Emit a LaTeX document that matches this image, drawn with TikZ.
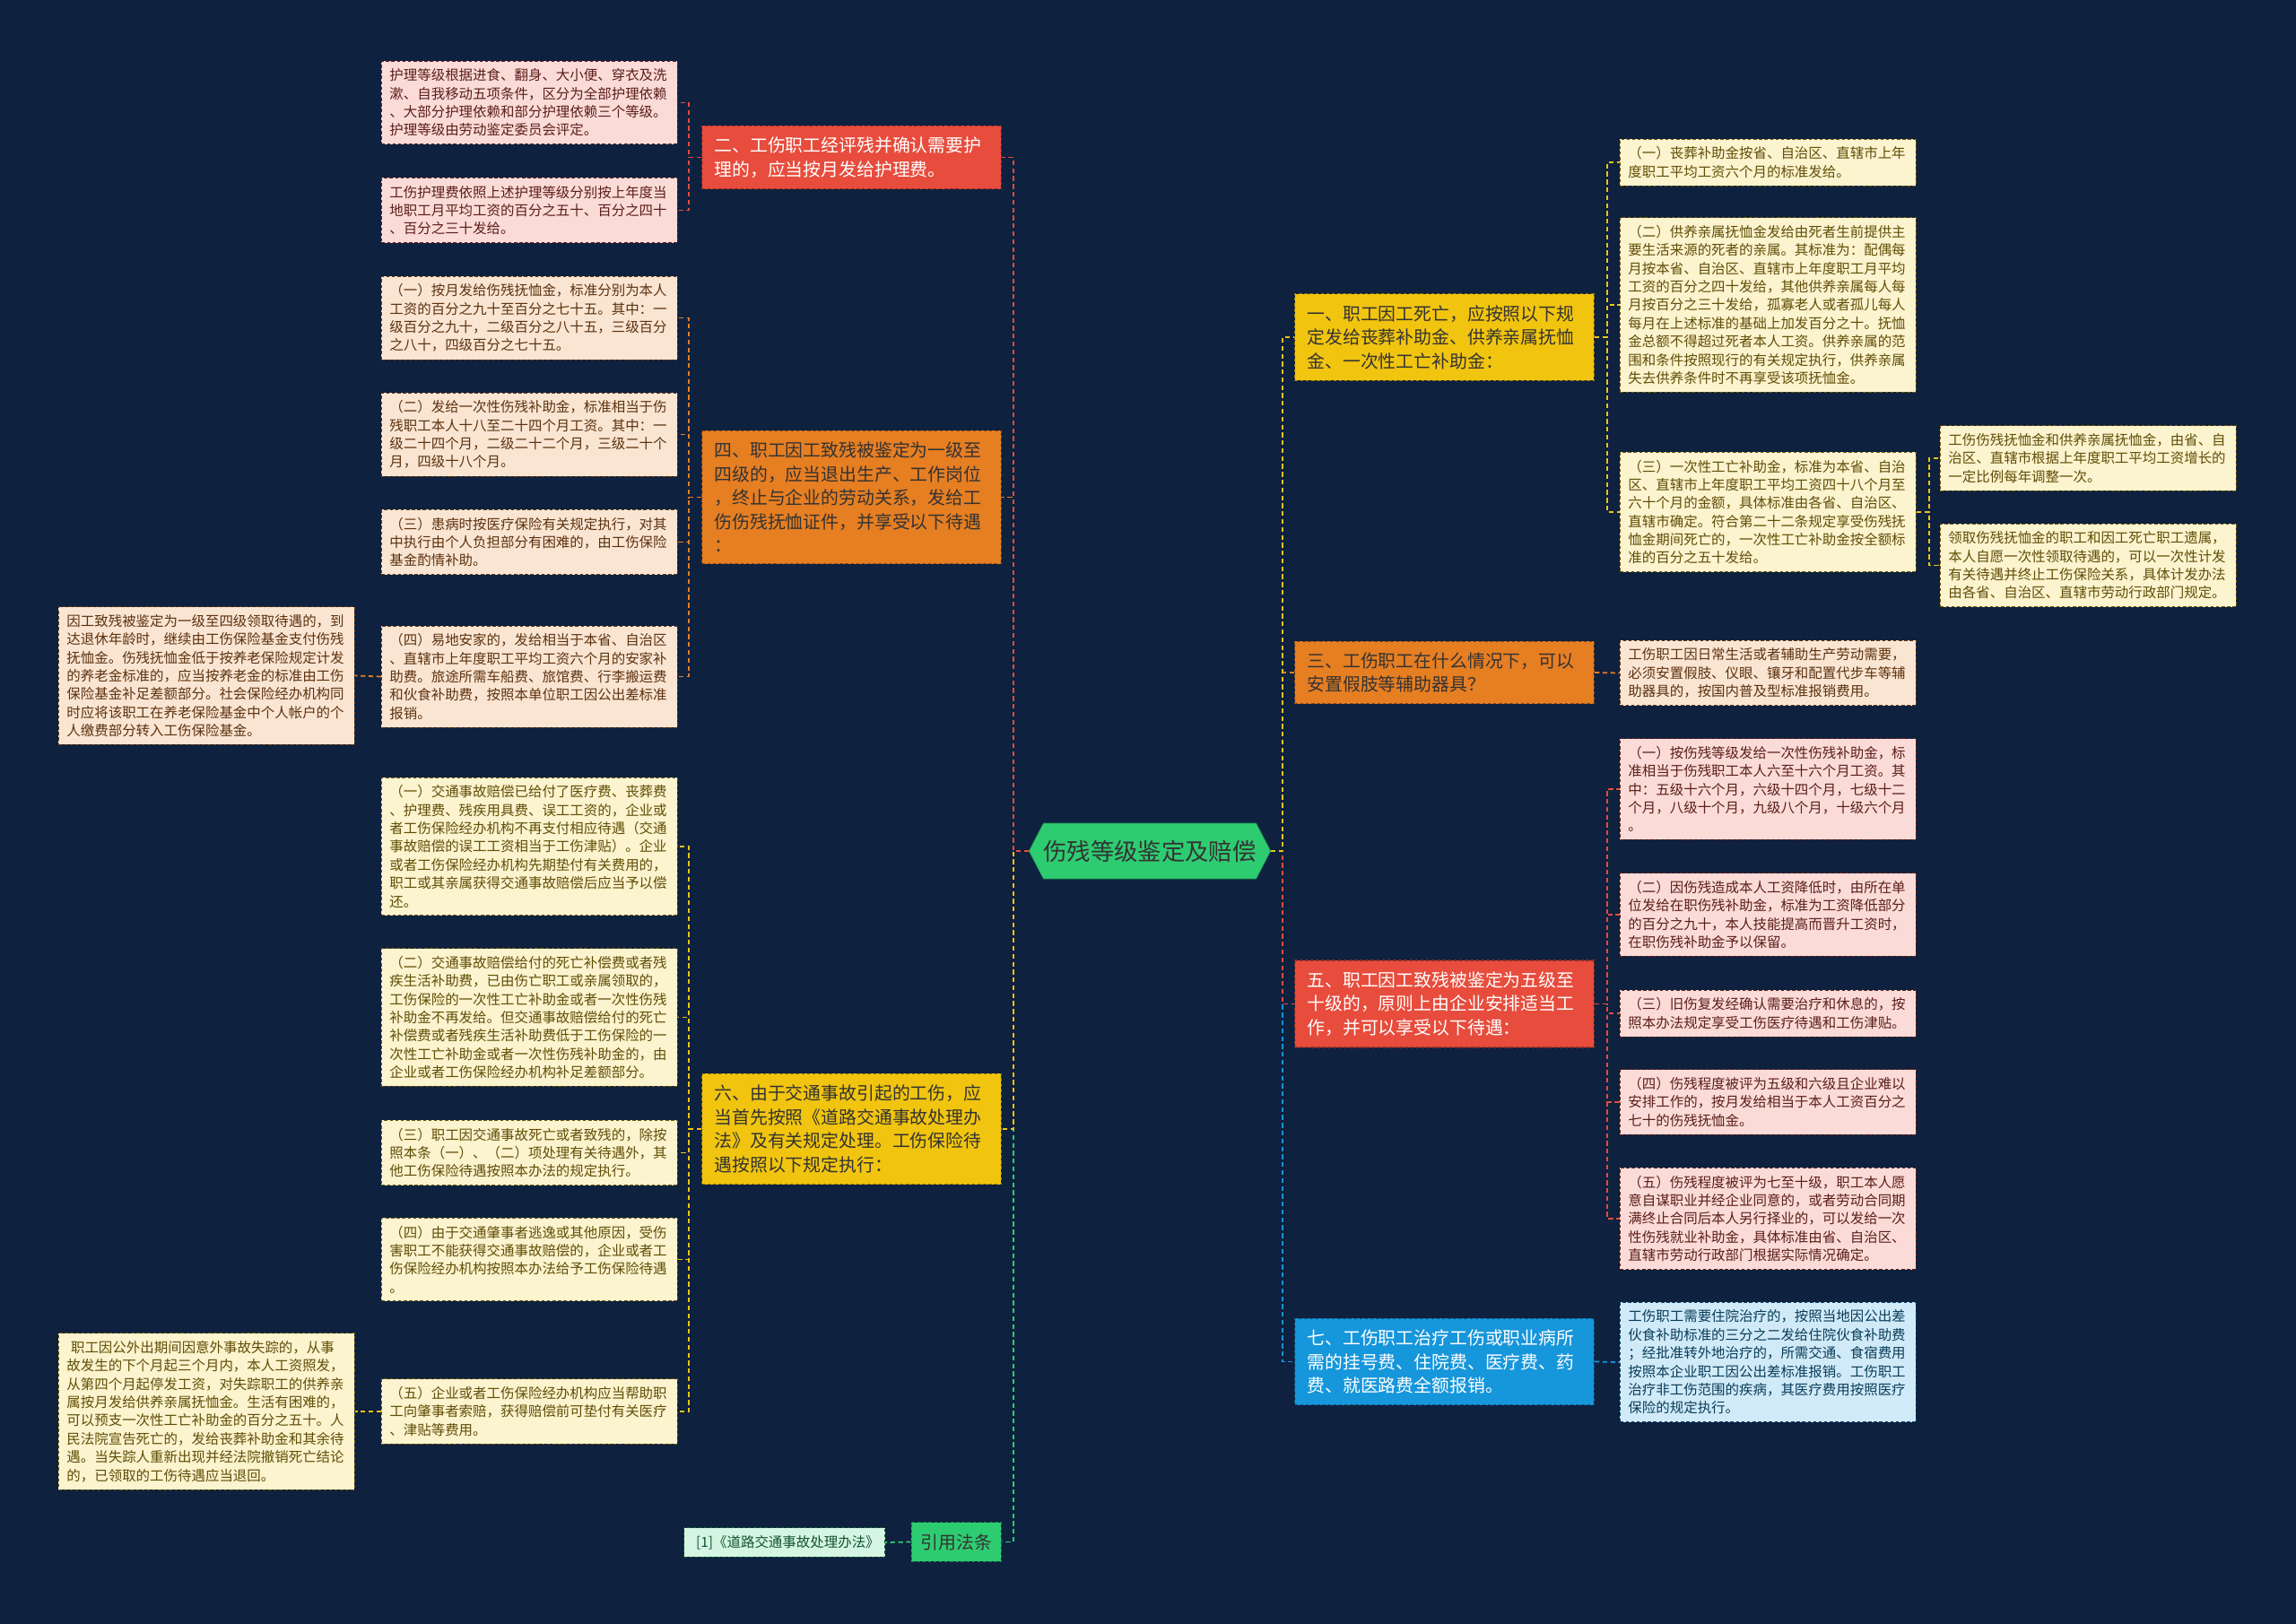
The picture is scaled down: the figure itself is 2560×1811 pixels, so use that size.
\documentclass[tikz,border=0pt]{standalone}
\usepackage{fontspec}
\setmainfont{Noto Sans CJK SC}
\usepackage{tikz}
\usetikzlibrary{positioning, shapes.symbols}
\definecolor{bgnavy}{HTML}{0E213F}
\definecolor{brred}{HTML}{E74C3C}
\definecolor{brorange}{HTML}{E67E22}
\definecolor{bryellow}{HTML}{F1C40F}
\definecolor{brblue}{HTML}{1696DB}
\definecolor{brgreen}{HTML}{2ECC71}

\begin{document}
\begin{tikzpicture}[x=0.02cm, y=-0.02cm,
  topic/.style={fill=#1, draw=#1!60!black, dash pattern=on 2pt off 1.5pt, line width=0.6pt, text width=6.12cm, inner xsep=0.28cm, inner ysep=0.25cm, align=left, font=\fontsize{11.3}{15.1}\selectfont, text=black!80},
  leaf/.style={fill=#1!20!white, draw=#1!45!black, dash pattern=on 2pt off 1.5pt, line width=0.5pt, text width=6.24cm, inner xsep=0.18cm, inner ysep=0.17cm, align=left, font=\fontsize{8.8}{11.6}\selectfont, text=#1!40!black},
  conn/.style={draw=#1, line width=1pt, dash pattern=on 3pt off 2pt}
]
  \fill[bgnavy] (0,0) rectangle (2560,1811);
  \useasboundingbox (0,0) rectangle (2560,1811);

  \node[signal, signal to=west and east, signal pointer angle=125, fill=brgreen, draw=brgreen!70!black, minimum width=5.38cm, minimum height=1.24cm, inner sep=0pt, font=\fontsize{15}{18}\selectfont, text=black!80] (root) at (1282,949) {伤残等级鉴定及赔偿};

  \node[topic=brred, text=white, anchor=east] (h2) at (1117,175.5) {二、工伤职工经评残并确认需要护\\理的，应当按月发给护理费。};
  \node[topic=brorange, anchor=east] (h4) at (1117,554.5) {四、职工因工致残被鉴定为一级至\\四级的，应当退出生产、工作岗位\\，终止与企业的劳动关系，发给工\\伤伤残抚恤证件，并享受以下待遇\\：};
  \node[topic=bryellow, anchor=east] (h6) at (1117,1259) {六、由于交通事故引起的工伤，应\\当首先按照《道路交通事故处理办\\法》及有关规定处理。工伤保险待\\遇按照以下规定执行：};
  \node[topic=brgreen, text width=, inner xsep=0.21cm, anchor=east] (hcite) at (1117,1719.5) {引用法条};

  \node[topic=bryellow, anchor=west] (h1) at (1443,376) {一、职工因工死亡，应按照以下规\\定发给丧葬补助金、供养亲属抚恤\\金、一次性工亡补助金：};
  \node[topic=brorange, anchor=west] (h3) at (1443,750) {三、工伤职工在什么情况下，可以\\安置假肢等辅助器具？};
  \node[topic=brred, text=white, anchor=west] (h5) at (1443,1119.5) {五、职工因工致残被鉴定为五级至\\十级的，原则上由企业安排适当工\\作，并可以享受以下待遇：};
  \node[topic=brblue, text=white, anchor=west] (h7) at (1443,1518.5) {七、工伤职工治疗工伤或职业病所\\需的挂号费、住院费、医疗费、药\\费、就医路费全额报销。};

  \node[leaf=brred, anchor=west] (a1) at (425,114.5) {护理等级根据进食、翻身、大小便、穿衣及洗\\漱、自我移动五项条件，区分为全部护理依赖\\、大部分护理依赖和部分护理依赖三个等级。\\护理等级由劳动鉴定委员会评定。};
  \node[leaf=brred, anchor=west] (a2) at (425,234.5) {工伤护理费依照上述护理等级分别按上年度当\\地职工月平均工资的百分之五十、百分之四十\\、百分之三十发给。};

  \node[leaf=brorange, anchor=west] (b1) at (425,354.5) {（一）按月发给伤残抚恤金，标准分别为本人\\工资的百分之九十至百分之七十五。其中：一\\级百分之九十，二级百分之八十五，三级百分\\之八十，四级百分之七十五。};
  \node[leaf=brorange, anchor=west] (b2) at (425,484.5) {（二）发给一次性伤残补助金，标准相当于伤\\残职工本人十八至二十四个月工资。其中：一\\级二十四个月，二级二十二个月，三级二十个\\月，四级十八个月。};
  \node[leaf=brorange, anchor=west] (b3) at (425,604.5) {（三）患病时按医疗保险有关规定执行，对其\\中执行由个人负担部分有困难的，由工伤保险\\基金酌情补助。};
  \node[leaf=brorange, anchor=west] (b4) at (425,754.5) {（四）易地安家的，发给相当于本省、自治区\\、直辖市上年度职工平均工资六个月的安家补\\助费。旅途所需车船费、旅馆费、行李搬运费\\和伙食补助费，按照本单位职工因公出差标准\\报销。};
  \node[leaf=brorange, anchor=west] (c1) at (65,753.5) {因工致残被鉴定为一级至四级领取待遇的，到\\达退休年龄时，继续由工伤保险基金支付伤残\\抚恤金。伤残抚恤金低于按养老保险规定计发\\的养老金标准的，应当按养老金的标准由工伤\\保险基金补足差额部分。社会保险经办机构同\\时应将该职工在养老保险基金中个人帐户的个\\人缴费部分转入工伤保险基金。};

  \node[leaf=bryellow, anchor=west] (d1) at (425,944) {（一）交通事故赔偿已给付了医疗费、丧葬费\\、护理费、残疾用具费、误工工资的，企业或\\者工伤保险经办机构不再支付相应待遇（交通\\事故赔偿的误工工资相当于工伤津贴）。企业\\或者工伤保险经办机构先期垫付有关费用的，\\职工或其亲属获得交通事故赔偿后应当予以偿\\还。};
  \node[leaf=bryellow, anchor=west] (d2) at (425,1134.5) {（二）交通事故赔偿给付的死亡补偿费或者残\\疾生活补助费，已由伤亡职工或亲属领取的，\\工伤保险的一次性工亡补助金或者一次性伤残\\补助金不再发给。但交通事故赔偿给付的死亡\\补偿费或者残疾生活补助费低于工伤保险的一\\次性工亡补助金或者一次性伤残补助金的，由\\企业或者工伤保险经办机构补足差额部分。};
  \node[leaf=bryellow, anchor=west] (d3) at (425,1285.5) {（三）职工因交通事故死亡或者致残的，除按\\照本条（一）、（二）项处理有关待遇外，其\\他工伤保险待遇按照本办法的规定执行。};
  \node[leaf=bryellow, anchor=west] (d4) at (425,1404.5) {（四）由于交通肇事者逃逸或其他原因，受伤\\害职工不能获得交通事故赔偿的，企业或者工\\伤保险经办机构按照本办法给予工伤保险待遇\\。};
  \node[leaf=bryellow, anchor=west] (d5) at (425,1574) {（五）企业或者工伤保险经办机构应当帮助职\\工向肇事者索赔，获得赔偿前可垫付有关医疗\\、津贴等费用。};
  \node[leaf=bryellow, anchor=west] (c2) at (65,1574) {\hspace*{0.3em}职工因公外出期间因意外事故失踪的，从事\\故发生的下个月起三个月内，本人工资照发，\\从第四个月起停发工资，对失踪职工的供养亲\\属按月发给供养亲属抚恤金。生活有困难的，\\可以预支一次性工亡补助金的百分之五十。人\\民法院宣告死亡的，发给丧葬补助金和其余待\\遇。当失踪人重新出现并经法院撤销死亡结论\\的，已领取的工伤待遇应当退回。};

  \node[leaf=brgreen, text width=3.94cm, inner xsep=0.27cm, anchor=east] (ref) at (987,1720) {[1]《道路交通事故处理办法》};

  \node[leaf=bryellow, anchor=west] (r1) at (1806,181) {（一）丧葬补助金按省、自治区、直辖市上年\\度职工平均工资六个月的标准发给。};
  \node[leaf=bryellow, anchor=west] (r2) at (1806,340) {（二）供养亲属抚恤金发给由死者生前提供主\\要生活来源的死者的亲属。其标准为：配偶每\\月按本省、自治区、直辖市上年度职工月平均\\工资的百分之四十发给，其他供养亲属每人每\\月按百分之三十发给，孤寡老人或者孤儿每人\\每月在上述标准的基础上加发百分之十。抚恤\\金总额不得超过死者本人工资。供养亲属的范\\围和条件按照现行的有关规定执行，供养亲属\\失去供养条件时不再享受该项抚恤金。};
  \node[leaf=bryellow, anchor=west] (r3) at (1806,571) {（三）一次性工亡补助金，标准为本省、自治\\区、直辖市上年度职工平均工资四十八个月至\\六十个月的金额，具体标准由各省、自治区、\\直辖市确定。符合第二十二条规定享受伤残抚\\恤金期间死亡的，一次性工亡补助金按全额标\\准的百分之五十发给。};
  \node[leaf=bryellow, anchor=west] (r3a) at (2163,511) {工伤伤残抚恤金和供养亲属抚恤金，由省、自\\治区、直辖市根据上年度职工平均工资增长的\\一定比例每年调整一次。};
  \node[leaf=bryellow, anchor=west] (r3b) at (2163,630.5) {领取伤残抚恤金的职工和因工死亡职工遗属，\\本人自愿一次性领取待遇的，可以一次性计发\\有关待遇并终止工伤保险关系，具体计发办法\\由各省、自治区、直辖市劳动行政部门规定。};

  \node[leaf=brorange, anchor=west] (r4) at (1806,750.5) {工伤职工因日常生活或者辅助生产劳动需要，\\必须安置假肢、仪眼、镶牙和配置代步车等辅\\助器具的，按国内普及型标准报销费用。};

  \node[leaf=brred, anchor=west] (r5) at (1806,880) {（一）按伤残等级发给一次性伤残补助金，标\\准相当于伤残职工本人六至十六个月工资。其\\中：五级十六个月，六级十四个月，七级十二\\个月，八级十个月，九级八个月，十级六个月\\。};
  \node[leaf=brred, anchor=west] (r6) at (1806,1020) {（二）因伤残造成本人工资降低时，由所在单\\位发给在职伤残补助金，标准为工资降低部分\\的百分之九十，本人技能提高而晋升工资时，\\在职伤残补助金予以保留。};
  \node[leaf=brred, anchor=west] (r7) at (1806,1130) {（三）旧伤复发经确认需要治疗和休息的，按\\照本办法规定享受工伤医疗待遇和工伤津贴。};
  \node[leaf=brred, anchor=west] (r8) at (1806,1229) {（四）伤残程度被评为五级和六级且企业难以\\安排工作的，按月发给相当于本人工资百分之\\七十的伤残抚恤金。};
  \node[leaf=brred, anchor=west] (r9) at (1806,1359) {（五）伤残程度被评为七至十级，职工本人愿\\意自谋职业并经企业同意的，或者劳动合同期\\满终止合同后本人另行择业的，可以发给一次\\性伤残就业补助金，具体标准由省、自治区、\\直辖市劳动行政部门根据实际情况确定。};

  \node[leaf=brblue, anchor=west] (r10) at (1806,1519) {工伤职工需要住院治疗的，按照当地因公出差\\伙食补助标准的三分之二发给住院伙食补助费\\；经批准转外地治疗的，所需交通、食宿费用\\按照本企业职工因公出差标准报销。工伤职工\\治疗非工伤范围的疾病，其医疗费用按照医疗\\保险的规定执行。};

  \draw[conn=brgreen] (root.west) -- ++(-17,0) |- (hcite.east);
  \draw[conn=bryellow] (root.west) -- ++(-17,0) |- (h6.east);
  \draw[conn=brorange] (root.west) -- ++(-17,0) |- (h4.east);
  \draw[conn=brred] (root.west) -- ++(-17,0) |- (h2.east);
  \draw[conn=brblue] (root.east) -- ++(13,0) |- (h7.west);
  \draw[conn=brred] (root.east) -- ++(13,0) |- (h5.west);
  \draw[conn=brorange] (root.east) -- ++(13,0) |- (h3.west);
  \draw[conn=bryellow] (root.east) -- ++(13,0) |- (h1.west);

  \foreach \leafname in {a1, a2}
    \draw[conn=brred] (h2.west) -- ++(-14,0) |- (\leafname.east);
  \foreach \leafname in {b1, b2, b3, b4}
    \draw[conn=brorange] (h4.west) -- ++(-14,0) |- (\leafname.east);
  \draw[conn=brorange] (b4.west) -- (c1.east);
  \foreach \leafname in {d1, d2, d3, d4, d5}
    \draw[conn=bryellow] (h6.west) -- ++(-14,0) |- (\leafname.east);
  \draw[conn=bryellow] (d5.west) -- (c2.east);
  \draw[conn=brgreen] (hcite.west) -- (ref.east);

  \foreach \leafname in {r1, r2, r3}
    \draw[conn=bryellow] (h1.east) -- ++(14,0) |- (\leafname.west);
  \foreach \leafname in {r3a, r3b}
    \draw[conn=bryellow] (r3.east) -- ++(14,0) |- (\leafname.west);
  \draw[conn=brorange] (h3.east) -- (r4.west);
  \foreach \leafname in {r5, r6, r7, r8, r9}
    \draw[conn=brred] (h5.east) -- ++(14,0) |- (\leafname.west);
  \draw[conn=brblue] (h7.east) -- (r10.west);
\end{tikzpicture}
\end{document}
